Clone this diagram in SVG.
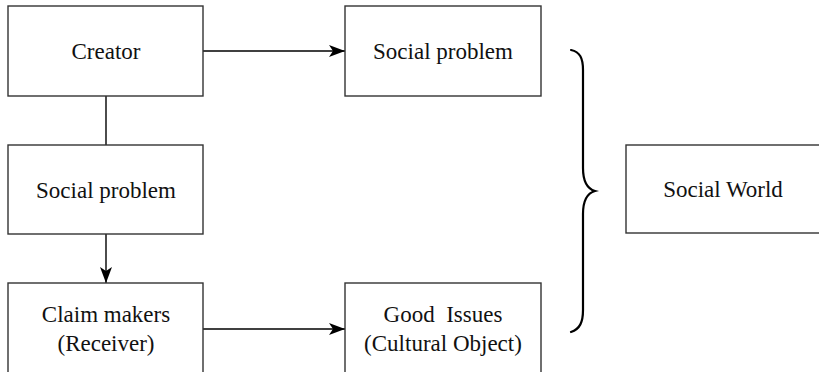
<svg xmlns="http://www.w3.org/2000/svg" width="819" height="372" viewBox="0 0 819 372">
<style>
.box{fill:#fff;stroke:#333;stroke-width:1.4}
.lbl{font-family:"Liberation Serif","Times New Roman",serif;font-size:23px;fill:#111;text-anchor:middle;white-space:pre}
.conn{fill:none;stroke:#000;stroke-width:1.4}
.brace{fill:none;stroke:#000;stroke-width:2.2;stroke-linecap:round}
</style>
<defs>
<marker id="arr" markerWidth="16" markerHeight="12" refX="16" refY="6" orient="auto" markerUnits="userSpaceOnUse">
<path d="M0,0 L16,6 L0,12 L4,6 Z" fill="#000"/>
</marker>
</defs>
<rect width="819" height="372" fill="#fff"/>
<g id="connectors">
<line class="conn" x1="203" y1="51" x2="345" y2="51" marker-end="url(#arr)"/>
<line class="conn" x1="106" y1="96" x2="106" y2="145"/>
<line class="conn" x1="106" y1="234" x2="106" y2="283" marker-end="url(#arr)"/>
<line class="conn" x1="203" y1="329" x2="345" y2="329" marker-end="url(#arr)"/>
<path class="brace" d="M571,50 C580,52 583,58 583,70 L583,168 C583,182 588,189 595,191 C588,193 583,200 583,214 L583,310 C583,322 580,329 571,332"/>
</g>
<g id="creator">
<rect class="box" x="8" y="6" width="195" height="90"/>
<text class="lbl" x="106" y="59">Creator</text>
</g>
<g id="social-problem-top">
<rect class="box" x="345" y="6" width="196" height="90"/>
<text class="lbl" x="443" y="59">Social problem</text>
</g>
<g id="social-problem-left">
<rect class="box" x="8" y="145" width="195" height="89"/>
<text class="lbl" x="106" y="198">Social problem</text>
</g>
<g id="claim-makers">
<rect class="box" x="8" y="283" width="195" height="100"/>
<text class="lbl" x="106" y="322">Claim makers</text>
<text class="lbl" x="106" y="351">(Receiver)</text>
</g>
<g id="good-issues">
<rect class="box" x="345" y="283" width="196" height="100"/>
<text class="lbl" x="443" y="322">Good  Issues</text>
<text class="lbl" x="443" y="351">(Cultural Object)</text>
</g>
<g id="social-world">
<rect class="box" x="626" y="145" width="200" height="88"/>
<text class="lbl" x="723" y="197">Social World</text>
</g>
</svg>
